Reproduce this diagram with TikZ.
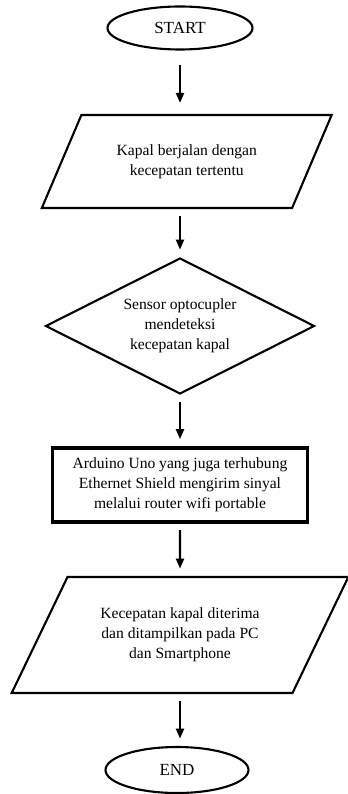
\documentclass[tikz,border=0pt]{standalone}
\usepackage{fontspec}
\setmainfont{Liberation Serif}
\usetikzlibrary{shapes.geometric,arrows.meta}

\begin{document}
\begin{tikzpicture}[x=0.03cm,y=-0.03cm]
\tikzstyle{every node}+=[inner sep=0pt, align=center, font=\fontsize{13.3}{17}\selectfont]
\tikzstyle{terminal}=[draw, ellipse, line width=1.8pt, minimum width=4.35cm, minimum height=1.29cm, font=\fontsize{14.5}{17}\selectfont]
\tikzstyle{io}=[draw, trapezium, trapezium stretches=true, line width=1.8pt]
\tikzstyle{decision}=[draw, diamond, shape aspect=2, line width=1.8pt, minimum width=8.07cm, minimum height=4.08cm]
\tikzstyle{process}=[draw, rectangle, line width=2.6pt, minimum width=7.65cm, minimum height=2.22cm]
\tikzstyle{flow}=[line width=1.8pt, shorten <=0.2cm, shorten >=0.22cm, -{Triangle[length=0.3cm,width=0.24cm]}]
\useasboundingbox (0,0) rectangle (348,794);
% shapes
\node [terminal] (start) at (180,28) {START};
\node [io, trapezium left angle=52.3, trapezium right angle=127.7, minimum width=8.7cm, minimum height=2.79cm] (input) at (186.75,161.5) {Kapal berjalan dengan\\kecepatan tertentu};
\node [decision] (sensor) at (180,326) {Sensor optocupler\\mendeteksi\\kecepatan kapal};
\node [process] (arduino) at (180,485) {Arduino Uno yang juga terhubung\\Ethernet Shield mengirim sinyal\\melalui router wifi portable};
\node [io, trapezium left angle=53.8, trapezium right angle=126.2, minimum width=10.11cm, minimum height=3.48cm] (output) at (180,635) {Kecepatan kapal diterima\\dan ditampilkan pada PC\\dan Smartphone};
\node [terminal, minimum width=4.29cm, minimum height=1.38cm] (end) at (177,770) {END};
% arrows
\draw [flow, shorten <=0.42cm, shorten >=0.33cm] (start) -- (start |- input.north);
\draw [flow] (start |- input.south) -- (sensor);
\draw [flow] (sensor) -- (arduino);
\draw [flow] (arduino) -- (output);
\draw [flow] (start |- output.south) -- (start |- end.north);
\end{tikzpicture}
\end{document}
